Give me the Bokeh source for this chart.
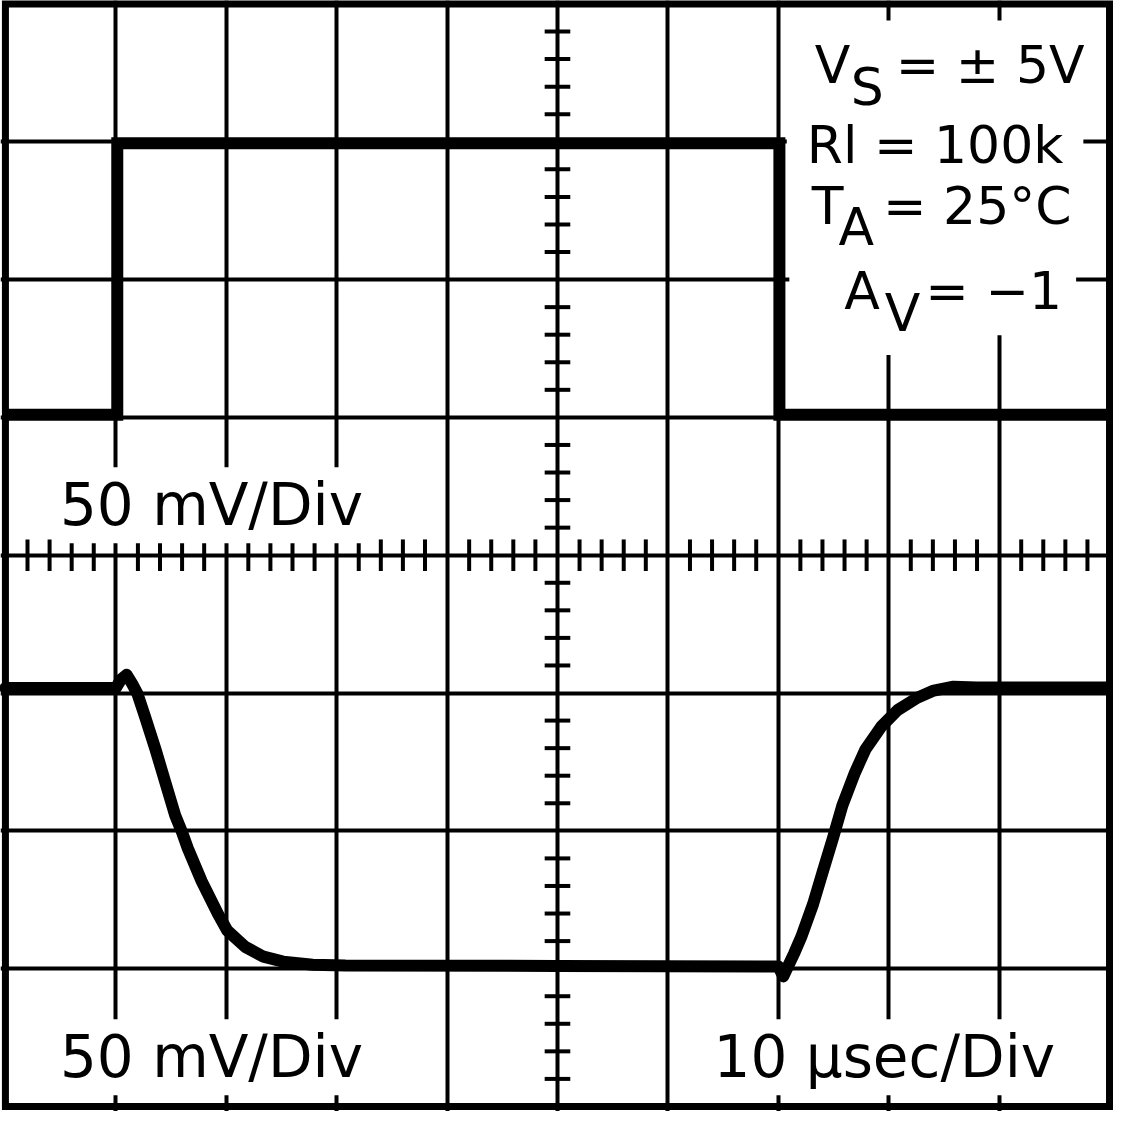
from bokeh.plotting import figure
from bokeh.models import Label, Grid, FixedTicker, Range1d
from bokeh.embed import file_html
from bokeh.resources import INLINE

# ---- screen grid (divisions) ----
x_grid = [1, 2, 3, 4, 5, 6, 7, 8, 9]
y_grid = [1, 2, 3, 4, 5, 6, 7]
x_center = 5
y_center = 4
x_minor = [k / 5 for k in range(1, 50) if k % 5]
y_minor = [k / 5 for k in range(1, 40) if k % 5]

# ---- input square wave (upper trace) ----
sq_x = [0, 1.013, 1.013, 7.01, 7.01, 10]
sq_y = [5.02, 5.02, 6.99, 6.99, 5.02, 5.02]

# ---- output response (lower trace) ----
out_x = [0, 1.0, 1.045, 1.098, 1.147, 1.196, 1.265, 1.360, 1.449, 1.538,
         1.598, 1.652, 1.777, 1.926, 2.009, 2.172, 2.337, 2.515, 2.783, 3.08,
         5.0, 7.0, 7.045, 7.143, 7.208, 7.315, 7.404, 7.494, 7.580, 7.694,
         7.788, 7.931, 8.080, 8.259, 8.408, 8.587, 8.795, 10]
out_y = [3.036, 3.036, 3.097, 3.132, 3.068, 2.994, 2.827, 2.589, 2.350, 2.112,
         1.993, 1.873, 1.635, 1.396, 1.277, 1.158, 1.087, 1.051, 1.029, 1.022,
         1.02, 1.015, 0.944, 1.110, 1.230, 1.468, 1.707, 1.945, 2.183, 2.422,
         2.589, 2.755, 2.876, 2.966, 3.018, 3.046, 3.04, 3.04]

p = figure(width=1113, height=1111,
           x_range=Range1d(-0.0446, 10.036), y_range=Range1d(-0.0365, 8.025),
           output_backend="svg", toolbar_location=None,
           x_axis_location=None, y_axis_location=None, min_border=0)
p.outline_line_color = None
p.background_fill_color = "white"
p.border_fill_color = "white"
for g in p.grid:
    g.visible = False

gx = Grid(dimension=0, ticker=FixedTicker(ticks=x_grid),
          grid_line_color="black", grid_line_width=4)
gy = Grid(dimension=1, ticker=FixedTicker(ticks=y_grid),
          grid_line_color="black", grid_line_width=4)
p.add_layout(gx)
p.add_layout(gy)

# center graticule minor ticks
p.segment(x0=x_minor, x1=x_minor,
          y0=[y_center - 0.1145] * len(x_minor), y1=[y_center + 0.1145] * len(x_minor),
          line_color="black", line_width=4)
p.segment(x0=[x_center - 0.116] * len(y_minor), x1=[x_center + 0.116] * len(y_minor),
          y0=y_minor, y1=y_minor, line_color="black", line_width=4)

# border
p.quad(left=[0], right=[10], bottom=[0], top=[8], fill_color=None,
       line_color="black", line_width=7, line_join="miter", level="overlay")

# traces
p.line(sq_x, sq_y, line_color="black", line_width=12, line_join="miter", level="overlay")
p.line(out_x, out_y, line_color="black", line_width=12, line_join="round",
       line_cap="round", level="overlay")

# text items: (x, y, text, size, align, mask padding)
texts = [
    (1.866, 4.363, "50 mV/Div", 58, "center", 4),
    (1.866, 0.357, "50 mV/Div", 58, "center", 4),
    (7.960, 0.357, "10 μsec/Div", 58, "center", 4),
    (7.330, 7.560, "V", 52, "left", 12),
    (7.657, 7.396, "S", 52, "left", 12),
    (8.064, 7.560, "= ± 5V", 52, "left", 14),
    (7.258, 6.974, "Rl = 100k", 52, "left", 20),
    (7.304, 6.537, "T", 52, "left", 12),
    (7.545, 6.380, "A", 52, "left", 12),
    (7.948, 6.537, "= 25°C", 52, "left", 14),
    (7.598, 5.915, "A", 52, "left", 30),
    (7.964, 5.757, "V", 52, "left", 12),
    (8.332, 5.915, "= −1", 52, "left", 14),
]

PX_PER_DIV = 112 * 0.986

# first pass: white boxes (mask the graticule behind the texts)
masks = [(x - pad / PX_PER_DIV if a == "left" else x, y, t, s, a, pad)
         for x, y, t, s, a, pad in texts]
# widen the A_V row mask to the left, up to the square wave's falling edge
masks.append((7.10, 5.915, "A", 52, "left", 14))
for x, y, t, s, a, pad in masks:
    p.add_layout(Label(x=x, y=y, text=t, text_font="DejaVu Sans",
                       text_font_size=f"{s}px", text_align=a,
                       text_baseline="alphabetic", text_color="white",
                       background_fill_color="white", background_fill_alpha=1.0,
                       padding=pad))
# second pass: the texts on top
for x, y, t, s, a, pad in texts:
    p.add_layout(Label(x=x, y=y, text=t, text_font="DejaVu Sans",
                       text_font_size=f"{s}px", text_align=a,
                       text_baseline="alphabetic", text_color="black"))

open("out.html", "w").write(file_html(p, INLINE))
